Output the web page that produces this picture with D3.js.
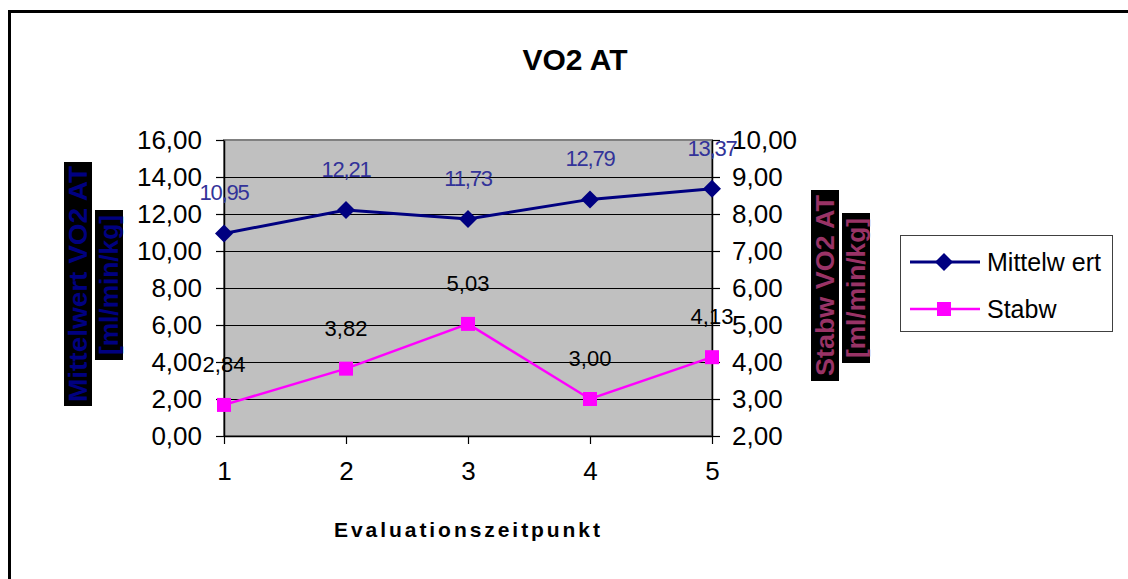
<!DOCTYPE html>
<html>

<head>
    <meta charset="utf-8" />
    <title>VO2 AT</title>
    <style>
        body {
            margin: 0;
            background: #fff;
        }

        svg text {
            font-family: "Liberation Sans", Arial, sans-serif;
        }
    </style>
</head>

<body>
    <svg id="chart" width="1128" height="579"></svg>
    <script src="https://cdn.jsdelivr.net/npm/d3@7/dist/d3.min.js"></script>
    <script>
        // data
        var categories = ["1", "2", "3", "4", "5"];
        var mittelwert = [10.95, 12.21, 11.73, 12.79, 13.37];
        var stabw = [2.84, 3.82, 5.03, 3.00, 4.13];
        var leftTicks = [0, 2, 4, 6, 8, 10, 12, 14, 16];
        var rightTicks = [2, 3, 4, 5, 6, 7, 8, 9, 10];
        var seriesNames = ["Mittelw ert", "Stabw"];

        var W = 1128,
            H = 579;
        var plot = { left: 224, right: 712, top: 140, bottom: 436 };

        var de = d3.formatLocale({ decimal: ",", thousands: ".", grouping: [3], currency: ["", " €"] });
        var fmt = de.format(".2f");

        var svg = d3.select("#chart");

        // outer frame
        svg.append("rect")
            .attr("x", 9.5).attr("y", 11.5)
            .attr("width", W + 10).attr("height", H + 10)
            .attr("fill", "#fff")
            .attr("stroke", "#000")
            .attr("stroke-width", 3);

        var x = d3.scalePoint().domain(categories).range([plot.left, plot.right]);
        var yL = d3.scaleLinear().domain([0, 16]).range([plot.bottom, plot.top]);
        var yR = d3.scaleLinear().domain([2, 10]).range([plot.bottom, plot.top]);

        // plot area
        svg.append("rect")
            .attr("x", plot.left).attr("y", plot.top)
            .attr("width", plot.right - plot.left).attr("height", plot.bottom - plot.top)
            .attr("fill", "#c0c0c0")
            .attr("stroke", "#808080")
            .attr("stroke-width", 2);

        // gridlines
        svg.append("g").selectAll("line")
            .data(leftTicks.slice(1, -1))
            .enter()
            .append("line")
            .attr("x1", plot.left).attr("x2", plot.right)
            .attr("y1", function(d) { return Math.round(yL(d)) + 0.5; })
            .attr("y2", function(d) { return Math.round(yL(d)) + 0.5; })
            .attr("stroke", "#000")
            .attr("stroke-width", 1);

        function styleAxis(g) {
            g.select(".domain").attr("stroke", "#000").attr("stroke-width", 1.5);
            g.selectAll(".tick line").attr("stroke", "#000").attr("stroke-width", 1.2);
            g.selectAll("text")
                .attr("font-size", 26)
                .attr("fill", "#000")
                .style("font-family", '"Liberation Sans", Arial, sans-serif');
        }

        svg.append("g")
            .attr("transform", "translate(" + plot.left + ",0)")
            .call(d3.axisLeft(yL).tickValues(leftTicks).tickFormat(fmt).tickSize(8).tickSizeOuter(0).tickPadding(14))
            .call(styleAxis);

        svg.append("g")
            .attr("transform", "translate(" + plot.right + ",0)")
            .call(d3.axisRight(yR).tickValues(rightTicks).tickFormat(fmt).tickSize(8).tickSizeOuter(0).tickPadding(12))
            .call(styleAxis);

        svg.append("g")
            .attr("transform", "translate(0," + plot.bottom + ")")
            .call(d3.axisBottom(x).tickSize(8).tickSizeOuter(0).tickPadding(18))
            .call(styleAxis);

        // series lines
        var lineL = d3.line()
            .x(function(d, i) { return x(categories[i]); })
            .y(function(d) { return yL(d); });
        var lineR = d3.line()
            .x(function(d, i) { return x(categories[i]); })
            .y(function(d) { return yR(d); });

        svg.append("path")
            .datum(mittelwert)
            .attr("d", lineL)
            .attr("fill", "none")
            .attr("stroke", "#000080")
            .attr("stroke-width", 3);

        svg.append("path")
            .datum(stabw)
            .attr("d", lineR)
            .attr("fill", "none")
            .attr("stroke", "#ff00ff")
            .attr("stroke-width", 2.5);

        var diamond = "M0,-9L9,0L0,9L-9,0Z";

        svg.append("g").selectAll("path")
            .data(mittelwert)
            .enter()
            .append("path")
            .attr("d", diamond)
            .attr("transform", function(d, i) {
                return "translate(" + x(categories[i]) + "," + yL(d) + ")";
            })
            .attr("fill", "#000080");

        svg.append("g").selectAll("rect")
            .data(stabw)
            .enter()
            .append("rect")
            .attr("x", function(d, i) { return x(categories[i]) - 7; })
            .attr("y", function(d) { return yR(d) - 7; })
            .attr("width", 14)
            .attr("height", 14)
            .attr("fill", "#ff00ff");

        // data labels
        svg.append("g").selectAll("text")
            .data(mittelwert)
            .enter()
            .append("text")
            .text(function(d) { return fmt(d); })
            .attr("x", function(d, i) { return x(categories[i]); })
            .attr("y", function(d) { return yL(d) - 33; })
            .attr("text-anchor", "middle")
            .attr("font-size", 22)
            .attr("letter-spacing", -1.2)
            .attr("fill", "#333399");

        svg.append("g").selectAll("text")
            .data(stabw)
            .enter()
            .append("text")
            .text(function(d) { return fmt(d); })
            .attr("x", function(d, i) { return x(categories[i]); })
            .attr("y", function(d) { return yR(d) - 33; })
            .attr("text-anchor", "middle")
            .attr("font-size", 22)
            .attr("fill", "#000");

        // title
        svg.append("text")
            .text("VO2 AT")
            .attr("x", 575).attr("y", 70)
            .attr("text-anchor", "middle")
            .attr("font-size", 30)
            .attr("font-weight", "bold");

        // x axis title
        svg.append("text")
            .text("Evaluationszeitpunkt")
            .attr("x", 334).attr("y", 537)
            .attr("font-size", 21)
            .attr("font-weight", "bold")
            .attr("textLength", 266)
            .attr("lengthAdjust", "spacing");

        // rotated y axis titles on black boxes
        function boxTitle(cx, y0, y1, label, color, len) {
            svg.append("rect")
                .attr("x", cx - 14).attr("y", y0)
                .attr("width", 28).attr("height", y1 - y0)
                .attr("fill", "#000");
            svg.append("text")
                .text(label)
                .attr("transform", "translate(" + (cx + 9) + "," + ((y0 + y1) / 2) + ") rotate(-90)")
                .attr("text-anchor", "middle")
                .attr("font-size", 25)
                .attr("font-weight", "bold")
                .attr("textLength", len)
                .attr("lengthAdjust", "spacingAndGlyphs")
                .attr("fill", color);
        }
        boxTitle(78, 162, 406, "Mittelwert VO2 AT", "#000080", 236);
        boxTitle(109, 210, 360, "[ml/min/kg]", "#000080", 140);
        boxTitle(825, 190, 381, "Stabw VO2 AT", "#993366", 181);
        boxTitle(856, 213, 363, "[ml/min/kg]", "#993366", 140);

        // legend
        var legend = svg.append("g");
        legend.append("rect")
            .attr("x", 900.5).attr("y", 235.5)
            .attr("width", 212).attr("height", 96)
            .attr("fill", "#fff")
            .attr("stroke", "#404040")
            .attr("stroke-width", 1);

        var legendColors = ["#000080", "#ff00ff"];
        seriesNames.forEach(function(name, i) {
            var ly = 262 + i * 47;
            legend.append("line")
                .attr("x1", 910).attr("x2", 980)
                .attr("y1", ly).attr("y2", ly)
                .attr("stroke", legendColors[i])
                .attr("stroke-width", i === 0 ? 3 : 2.5);
            if (i === 0) {
                legend.append("path")
                    .attr("d", diamond)
                    .attr("transform", "translate(944," + ly + ")")
                    .attr("fill", legendColors[i]);
            } else {
                legend.append("rect")
                    .attr("x", 937).attr("y", ly - 7)
                    .attr("width", 14).attr("height", 14)
                    .attr("fill", legendColors[i]);
            }
            legend.append("text")
                .text(name)
                .attr("x", 987).attr("y", ly + 9)
                .attr("font-size", 25)
                .attr("fill", "#000");
        });
    </script>
</body>

</html>
